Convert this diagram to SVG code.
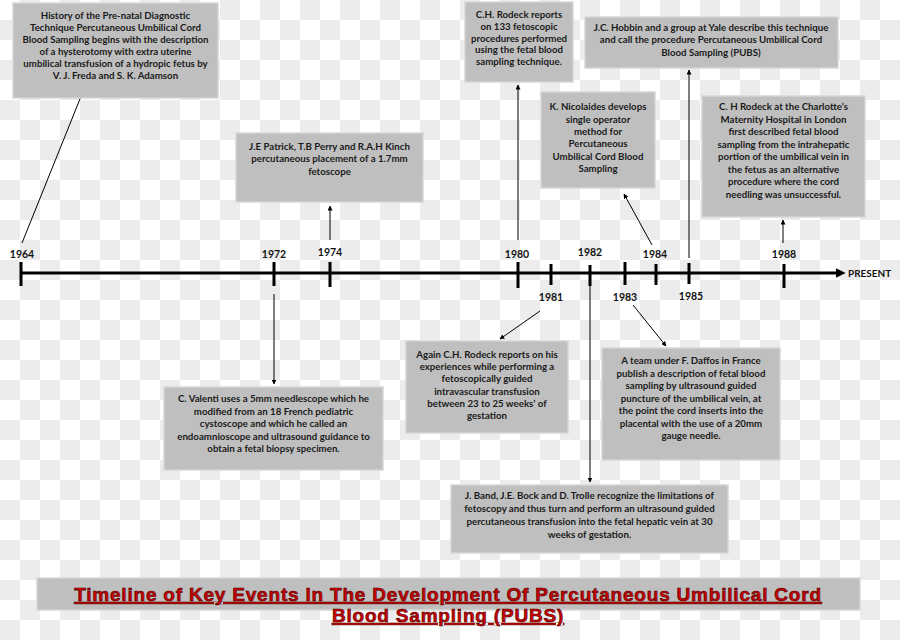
<svg xmlns="http://www.w3.org/2000/svg" width="900" height="640" viewBox="0 0 900 640">
<defs>
<pattern id="chk" x="0" y="0" width="40" height="40" patternUnits="userSpaceOnUse">
<rect width="40" height="40" fill="#ffffff"/>
<rect x="20" y="0" width="20" height="20" fill="#ececec"/>
<rect x="0" y="20" width="20" height="20" fill="#ececec"/>
</pattern>
<marker id="ah" viewBox="0 0 10 10" refX="9" refY="5" markerWidth="5" markerHeight="5" orient="auto">
<path d="M0,0 L10,5 L0,10 z" fill="#000"/>
</marker>
<marker id="big" viewBox="0 0 10 10" refX="2" refY="5" markerWidth="3.2" markerHeight="3.2" orient="auto">
<path d="M0,0 L10,5 L0,10 z" fill="#000"/>
</marker>
</defs>
<style>
.box{fill:#bfbfbf;stroke:#d6d6d6;stroke-width:1.5}
.t{font-family:Lato,"Liberation Sans",sans-serif;font-weight:bold;font-size:9.7px;fill:#1a1a1a;text-anchor:middle}
.yr{font-family:Lato,"Liberation Sans",sans-serif;font-weight:bold;font-size:10.5px;fill:#111;text-anchor:middle}
.tick{stroke:#000;stroke-width:3}
.con{stroke:#000;stroke-width:1;fill:none;marker-end:url(#ah)}
.title{font-family:"Liberation Sans",Arial,sans-serif;font-weight:bold;font-size:19px;letter-spacing:0.8px;fill:#cc0000;stroke:#4a0000;stroke-width:0.6;text-anchor:middle;text-decoration:underline}
</style>
<rect width="900" height="640" fill="url(#chk)"/>

<g id="timeline">
<line x1="21" y1="273" x2="838" y2="273" stroke="#000" stroke-width="3" marker-end="url(#big)"/>
<line class="tick" x1="21" y1="262" x2="21" y2="286"/>
<line class="tick" x1="274" y1="262" x2="274" y2="286"/>
<line class="tick" x1="330" y1="262" x2="330" y2="287"/>
<line class="tick" x1="518" y1="262" x2="518" y2="288"/>
<line class="tick" x1="551" y1="264" x2="551" y2="285"/>
<line class="tick" x1="590" y1="265" x2="590" y2="286"/>
<line class="tick" x1="625" y1="262" x2="625" y2="285"/>
<line class="tick" x1="656" y1="264" x2="656" y2="285"/>
<line class="tick" x1="689" y1="263" x2="689" y2="284"/>
<line class="tick" x1="784" y1="264" x2="784" y2="288"/>
<text class="yr" x="22" y="258">1964</text>
<text class="yr" x="274" y="258">1972</text>
<text class="yr" x="330" y="256">1974</text>
<text class="yr" x="517" y="258">1980</text>
<text class="yr" x="590" y="256">1982</text>
<text class="yr" x="655" y="258">1984</text>
<text class="yr" x="784" y="258">1988</text>
<text class="yr" x="551" y="301">1981</text>
<text class="yr" x="625" y="301">1983</text>
<text class="yr" x="691" y="300">1985</text>
<text class="yr" x="848" y="277" style="text-anchor:start;font-size:10px">PRESENT</text>
</g>

<g id="connectors">
<line class="con" x1="22" y1="243" x2="86" y2="84"/>
<line class="con" x1="330" y1="240" x2="330" y2="206"/>
<line class="con" x1="518" y1="240" x2="518" y2="85"/>
<line class="con" x1="689" y1="258" x2="689" y2="70"/>
<line class="con" x1="652" y1="245" x2="624" y2="194"/>
<line class="con" x1="783" y1="243" x2="783" y2="220"/>
<line class="con" x1="274" y1="294" x2="274" y2="384"/>
<line class="con" x1="540" y1="311" x2="500" y2="339"/>
<line class="con" x1="590" y1="280" x2="590" y2="482"/>
<line class="con" x1="633" y1="305" x2="666" y2="346"/>
</g>

<g id="n1964">
<rect class="box" x="13" y="3" width="205" height="95"/>
<text class="t" x="115.5" y="19">History of the Pre-natal Diagnostic</text>
<text class="t" x="115.5" y="31">Technique Percutaneous Umbilical Cord</text>
<text class="t" x="115.5" y="43">Blood Sampling begins with the description</text>
<text class="t" x="115.5" y="55">of a hysterotomy with extra uterine</text>
<text class="t" x="115.5" y="67">umbilical transfusion of a hydropic fetus by</text>
<text class="t" x="115.5" y="79">V. J. Freda and S. K. Adamson</text>
</g>

<g id="n1974">
<rect class="box" x="236" y="133" width="187" height="69"/>
<text class="t" x="329.5" y="150">J.E Patrick, T.B Perry and R.A.H Kinch</text>
<text class="t" x="329.5" y="162">percutaneous placement of a 1.7mm</text>
<text class="t" x="329.5" y="175">fetoscope</text>
</g>

<g id="n1980">
<rect class="box" x="465" y="2" width="108" height="80"/>
<text class="t" x="519" y="18">C.H. Rodeck reports</text>
<text class="t" x="519" y="30">on 133 fetoscopic</text>
<text class="t" x="519" y="41.5">procedures performed</text>
<text class="t" x="519" y="53">using the fetal blood</text>
<text class="t" x="519" y="65">sampling technique.</text>
</g>

<g id="n1985">
<rect class="box" x="585" y="17" width="253" height="51"/>
<text class="t" x="711" y="31">J.C. Hobbin and a group at Yale describe this technique</text>
<text class="t" x="711" y="43">and call the procedure Percutaneous Umbilical Cord</text>
<text class="t" x="711" y="56">Blood Sampling (PUBS)</text>
</g>

<g id="n1984">
<rect class="box" x="541" y="92" width="114" height="96"/>
<text class="t" x="598" y="110">K. Nicolaides develops</text>
<text class="t" x="598" y="122.5">single operator</text>
<text class="t" x="598" y="135">method for</text>
<text class="t" x="598" y="147">Percutaneous</text>
<text class="t" x="598" y="159.5">Umbilical Cord Blood</text>
<text class="t" x="598" y="172">Sampling</text>
</g>

<g id="n1988">
<rect class="box" x="702" y="96" width="163" height="121"/>
<text class="t" x="783.5" y="110">C. H Rodeck at the Charlotte’s</text>
<text class="t" x="783.5" y="122.5">Maternity Hospital in London</text>
<text class="t" x="783.5" y="135">first described fetal blood</text>
<text class="t" x="783.5" y="147.5">sampling from the intrahepatic</text>
<text class="t" x="783.5" y="160">portion of the umbilical vein in</text>
<text class="t" x="783.5" y="172.5">the fetus as an alternative</text>
<text class="t" x="783.5" y="185">procedure where the cord</text>
<text class="t" x="783.5" y="197.5">needling was unsuccessful.</text>
</g>

<g id="n1972">
<rect class="box" x="164" y="387" width="219" height="83"/>
<text class="t" x="273.5" y="402">C. Valenti uses a 5mm needlescope which he</text>
<text class="t" x="273.5" y="414.5">modified from an 18 French pediatric</text>
<text class="t" x="273.5" y="427">cystoscope and which he called an</text>
<text class="t" x="273.5" y="439.5">endoamnioscope and ultrasound guidance to</text>
<text class="t" x="273.5" y="452">obtain a fetal biopsy specimen.</text>
</g>

<g id="n1981">
<rect class="box" x="406" y="341" width="162" height="92"/>
<text class="t" x="487" y="358">Again C.H. Rodeck reports on his</text>
<text class="t" x="487" y="370">experiences while performing a</text>
<text class="t" x="487" y="382">fetoscopically guided</text>
<text class="t" x="487" y="394.5">intravascular transfusion</text>
<text class="t" x="487" y="406.5">between 23 to 25 weeks’ of</text>
<text class="t" x="487" y="419">gestation</text>
</g>

<g id="n1983">
<rect class="box" x="602" y="348" width="178" height="112"/>
<text class="t" x="691" y="364">A team under F. Daffos in France</text>
<text class="t" x="691" y="376.5">publish a description of fetal blood</text>
<text class="t" x="691" y="389">sampling by ultrasound guided</text>
<text class="t" x="691" y="401.5">puncture of the umbilical vein, at</text>
<text class="t" x="691" y="414">the point the cord inserts into the</text>
<text class="t" x="691" y="426.5">placental with the use of a 20mm</text>
<text class="t" x="691" y="439">gauge needle.</text>
</g>

<g id="n1982">
<rect class="box" x="451" y="485" width="277" height="68"/>
<text class="t" x="589.5" y="499">J. Band, J.E. Bock and D. Trolle recognize the limitations of</text>
<text class="t" x="589.5" y="512">fetoscopy and thus turn and perform an ultrasound guided</text>
<text class="t" x="589.5" y="525">percutaneous transfusion into the fetal hepatic vein at 30</text>
<text class="t" x="589.5" y="538">weeks of gestation.</text>
</g>

<g id="title">
<rect x="37" y="578" width="823" height="32" fill="#bfbfbf" stroke="#d6d6d6" stroke-width="1.5"/>
<text class="title" x="448" y="601">Timeline of Key Events In The Development Of Percutaneous Umbilical Cord</text>
<text class="title" x="448" y="622">Blood Sampling (PUBS)</text>
</g>
</svg>
